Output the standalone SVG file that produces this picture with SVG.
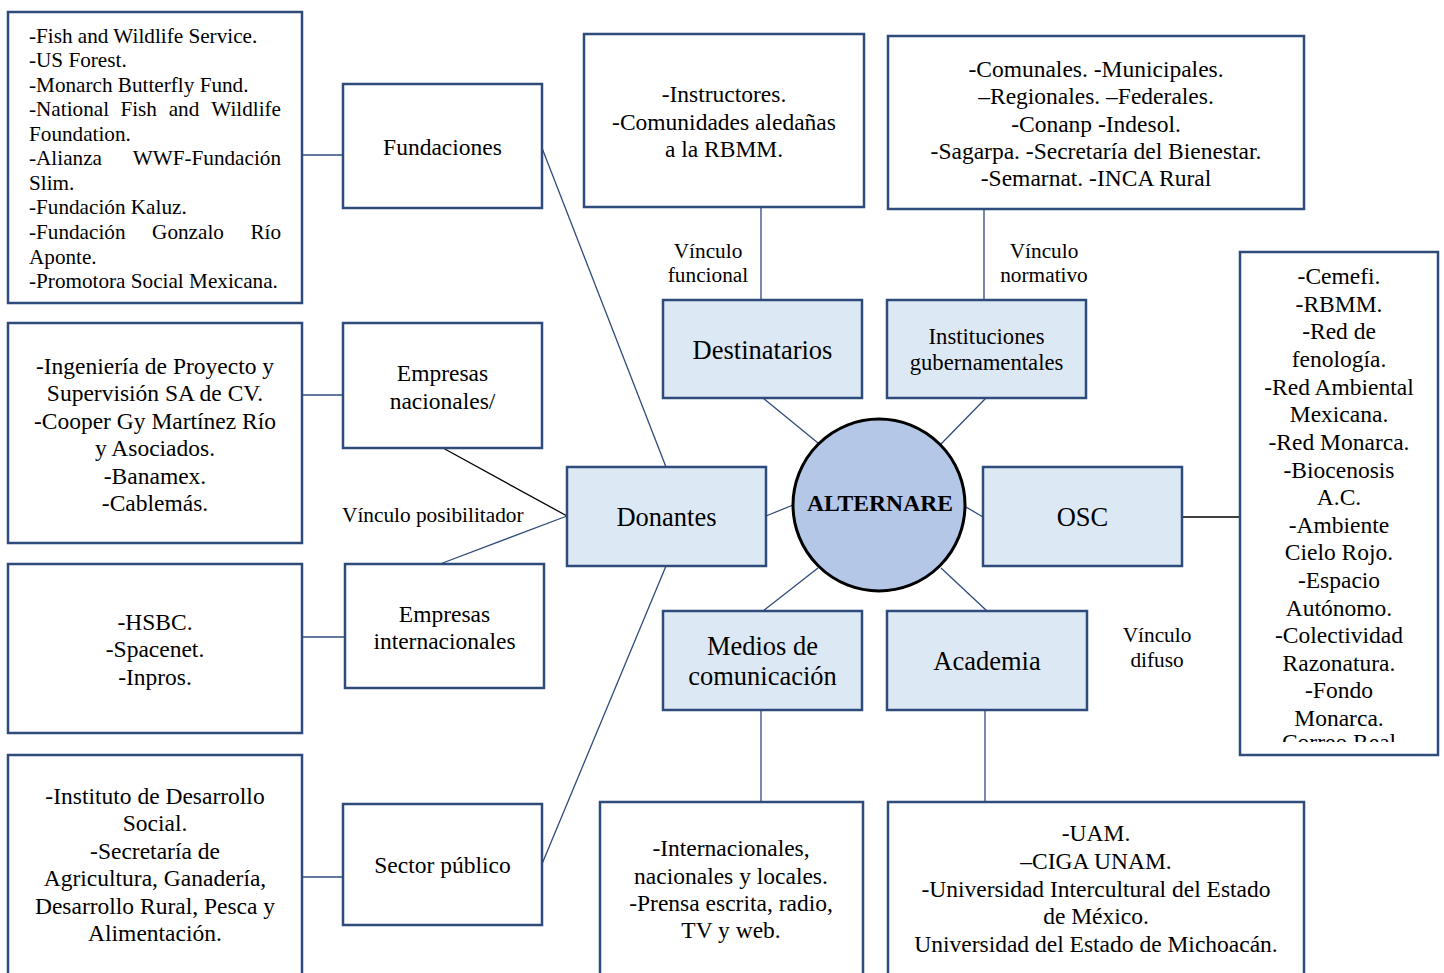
<svg xmlns="http://www.w3.org/2000/svg" width="1444" height="973" viewBox="0 0 1444 973">
  <style>
    .box { fill: #ffffff; stroke: #2f4b7c; stroke-width: 2.5; }
    .blue { fill: #dde8f5; stroke: #2f4b7c; stroke-width: 2.5; }
    .hub { fill: #b4c7e7; stroke: #000000; stroke-width: 3; }
    .ln { stroke: #2f4b7c; stroke-width: 1.3; fill: none; }
    .lk { stroke: #000000; stroke-width: 1.3; fill: none; }
    text { font-family: "Liberation Serif", "Times New Roman", serif; fill: #000000; }
    .list { font-size: 23.5px; text-anchor: middle; }
    .small { font-size: 21.2px; }
    .lbl { font-size: 23.5px; text-anchor: middle; }
    .big { font-size: 26.5px; text-anchor: middle; }
    .link { font-size: 21.3px; }
    .hubtxt { font-size: 23.6px; font-weight: bold; text-anchor: middle; }
  </style>
  <defs>
    <clipPath id="oscClip">
      <rect x="1240" y="252" width="200" height="490"/>
    </clipPath>
  </defs>

  <rect width="1444" height="973" fill="#ffffff"/>

  <!-- connectors -->
  <g id="connectors">
    <line class="ln" x1="297" y1="155" x2="343" y2="155"/>
    <line class="ln" x1="297" y1="395" x2="343" y2="395"/>
    <line class="ln" x1="298" y1="637" x2="345" y2="637"/>
    <line class="ln" x1="298" y1="877" x2="343" y2="877"/>
    <line class="ln" x1="542" y1="148" x2="666" y2="467"/>
    <line class="lk" x1="443" y1="448" x2="567" y2="516"/>
    <line class="ln" x1="440" y1="564" x2="567" y2="516"/>
    <line class="ln" x1="542" y1="864" x2="666" y2="566"/>
    <line class="ln" x1="766" y1="516" x2="793" y2="505"/>
    <line class="ln" x1="761" y1="205" x2="761" y2="300"/>
    <line class="ln" x1="984" y1="207" x2="984" y2="300"/>
    <line class="ln" x1="763" y1="398" x2="818" y2="443"/>
    <line class="ln" x1="986" y1="398" x2="941" y2="444"/>
    <line class="ln" x1="763" y1="611" x2="818" y2="568"/>
    <line class="ln" x1="987" y1="611" x2="941" y2="568"/>
    <line class="ln" x1="983" y1="517" x2="966" y2="507"/>
    <line class="lk" x1="1177" y1="517" x2="1240" y2="517"/>
    <line class="ln" x1="761" y1="708" x2="761" y2="804"/>
    <line class="ln" x1="985" y1="708" x2="985" y2="804"/>
  </g>

  <!-- link labels -->
  <g id="link-labels">
    <text class="link" x="342" y="522">Vínculo posibilitador</text>
    <text class="link" x="708" y="258" text-anchor="middle">Vínculo</text>
    <text class="link" x="708" y="282" text-anchor="middle">funcional</text>
    <text class="link" x="1044" y="258" text-anchor="middle">Vínculo</text>
    <text class="link" x="1044" y="282" text-anchor="middle">normativo</text>
    <text class="link" x="1157" y="642" text-anchor="middle">Vínculo</text>
    <text class="link" x="1157" y="667" text-anchor="middle">difuso</text>
  </g>

  <!-- left column: lists of donors -->
  <g id="list-fundaciones">
    <rect class="box" x="8" y="12" width="294" height="291"/>
    <text class="small" x="29" y="43">-Fish and Wildlife Service.</text>
    <text class="small" x="29" y="67">-US Forest.</text>
    <text class="small" x="29" y="92">-Monarch Butterfly Fund.</text>
    <text class="small" y="116"><tspan x="29">-National</tspan><tspan x="120.4">Fish</tspan><tspan x="168.7">and</tspan><tspan x="281" text-anchor="end">Wildlife</tspan></text>
    <text class="small" x="29" y="141">Foundation.</text>
    <text class="small" y="165"><tspan x="29">-Alianza</tspan><tspan x="281" text-anchor="end">WWF-Fundación</tspan></text>
    <text class="small" x="29" y="190">Slim.</text>
    <text class="small" x="29" y="214">-Fundación Kaluz.</text>
    <text class="small" y="239"><tspan x="29">-Fundación</tspan><tspan x="152.1">Gonzalo</tspan><tspan x="281" text-anchor="end">Río</tspan></text>
    <text class="small" x="29" y="264">Aponte.</text>
    <text class="small" x="29" y="288">-Promotora Social Mexicana.</text>
  </g>

  <g id="list-nacionales">
    <rect class="box" x="8" y="323" width="294" height="220"/>
    <text class="list" x="155" y="374">-Ingeniería de Proyecto y</text>
    <text class="list" x="155" y="401">Supervisión SA de CV.</text>
    <text class="list" x="155" y="429">-Cooper Gy Martínez Río</text>
    <text class="list" x="155" y="456">y Asociados.</text>
    <text class="list" x="155" y="484">-Banamex.</text>
    <text class="list" x="155" y="511">-Cablemás.</text>
  </g>

  <g id="list-internacionales">
    <rect class="box" x="8" y="564" width="294" height="169"/>
    <text class="list" x="155" y="630">-HSBC.</text>
    <text class="list" x="155" y="657">-Spacenet.</text>
    <text class="list" x="155" y="685">-Inpros.</text>
  </g>

  <g id="list-sector-publico">
    <rect class="box" x="8" y="755" width="294" height="230"/>
    <text class="list" x="155" y="804">-Instituto de Desarrollo</text>
    <text class="list" x="155" y="831">Social.</text>
    <text class="list" x="155" y="859">-Secretaría de</text>
    <text class="list" x="155" y="886">Agricultura, Ganadería,</text>
    <text class="list" x="155" y="914">Desarrollo Rural, Pesca y</text>
    <text class="list" x="155" y="941">Alimentación.</text>
  </g>

  <!-- donor categories -->
  <g id="fundaciones">
    <rect class="box" x="343" y="84" width="199" height="124"/>
    <text class="lbl" x="442.5" y="155">Fundaciones</text>
  </g>
  <g id="empresas-nacionales">
    <rect class="box" x="343" y="323" width="199" height="125"/>
    <text class="lbl" x="442.5" y="381">Empresas</text>
    <text class="lbl" x="442.5" y="409">nacionales/</text>
  </g>
  <g id="empresas-internacionales">
    <rect class="box" x="345" y="564" width="199" height="124"/>
    <text class="lbl" x="444.5" y="622">Empresas</text>
    <text class="lbl" x="444.5" y="649">internacionales</text>
  </g>
  <g id="sector-publico">
    <rect class="box" x="343" y="804" width="199" height="121"/>
    <text class="lbl" x="442.5" y="873">Sector público</text>
  </g>

  <!-- actors around the hub -->
  <g id="donantes">
    <rect class="blue" x="567" y="467" width="199" height="99"/>
    <text class="big" x="666.5" y="526">Donantes</text>
  </g>
  <g id="destinatarios">
    <rect class="blue" x="663" y="300" width="199" height="98"/>
    <text class="big" x="762.5" y="359">Destinatarios</text>
  </g>
  <g id="instituciones">
    <rect class="blue" x="887" y="300" width="199" height="98"/>
    <text x="986.5" y="344" font-size="22.7" text-anchor="middle">Instituciones</text>
    <text x="986.5" y="370" font-size="22.7" text-anchor="middle">gubernamentales</text>
  </g>
  <g id="osc">
    <rect class="blue" x="983" y="467" width="199" height="99"/>
    <text class="big" x="1082.5" y="526">OSC</text>
  </g>
  <g id="medios">
    <rect class="blue" x="663" y="611" width="199" height="99"/>
    <text class="big" x="762.5" y="655">Medios de</text>
    <text class="big" x="762.5" y="685">comunicación</text>
  </g>
  <g id="academia">
    <rect class="blue" x="887" y="611" width="200" height="99"/>
    <text class="big" x="987" y="670">Academia</text>
  </g>

  <g id="alternare">
    <circle class="hub" cx="879" cy="505" r="86"/>
    <text class="hubtxt" x="880" y="511">ALTERNARE</text>
  </g>

  <!-- detail lists around the hub -->
  <g id="list-destinatarios">
    <rect class="box" x="584" y="34" width="280" height="173"/>
    <text class="list" x="724" y="102">-Instructores.</text>
    <text class="list" x="724" y="130">-Comunidades aledañas</text>
    <text class="list" x="724" y="157">a la RBMM.</text>
  </g>
  <g id="list-instituciones">
    <rect class="box" x="888" y="36" width="416" height="173"/>
    <text class="list" x="1096" y="77">-Comunales. -Municipales.</text>
    <text class="list" x="1096" y="104">–Regionales. –Federales.</text>
    <text class="list" x="1096" y="132">-Conanp -Indesol.</text>
    <text class="list" x="1096" y="159">-Sagarpa. -Secretaría del Bienestar.</text>
    <text class="list" x="1096" y="186">-Semarnat. -INCA Rural</text>
  </g>
  <g id="list-osc">
    <rect class="box" x="1240" y="252" width="198" height="503"/>
    <g clip-path="url(#oscClip)">
      <text class="list" x="1339" y="284">-Cemefi.</text>
      <text class="list" x="1339" y="312">-RBMM.</text>
      <text class="list" x="1339" y="339">-Red de</text>
      <text class="list" x="1339" y="367">fenología.</text>
      <text class="list" x="1339" y="395">-Red Ambiental</text>
      <text class="list" x="1339" y="422">Mexicana.</text>
      <text class="list" x="1339" y="450">-Red Monarca.</text>
      <text class="list" x="1339" y="478">-Biocenosis</text>
      <text class="list" x="1339" y="505">A.C.</text>
      <text class="list" x="1339" y="533">-Ambiente</text>
      <text class="list" x="1339" y="560">Cielo Rojo.</text>
      <text class="list" x="1339" y="588">-Espacio</text>
      <text class="list" x="1339" y="616">Autónomo.</text>
      <text class="list" x="1339" y="643">-Colectividad</text>
      <text class="list" x="1339" y="671">Razonatura.</text>
      <text class="list" x="1339" y="698">-Fondo</text>
      <text class="list" x="1339" y="726">Monarca.</text>
      <text class="list" x="1339" y="750">Correo Real</text>
    </g>
  </g>
  <g id="list-medios">
    <rect class="box" x="600" y="802" width="263" height="185"/>
    <text class="list" x="731" y="856">-Internacionales,</text>
    <text class="list" x="731" y="884">nacionales y locales.</text>
    <text class="list" x="731" y="911">-Prensa escrita, radio,</text>
    <text class="list" x="731" y="938">TV y web.</text>
  </g>
  <g id="list-academia">
    <rect class="box" x="888" y="802" width="416" height="185"/>
    <text class="list" x="1096" y="841">-UAM.</text>
    <text class="list" x="1096" y="869">–CIGA UNAM.</text>
    <text class="list" x="1096" y="897">-Universidad Intercultural del Estado</text>
    <text class="list" x="1096" y="924">de México.</text>
    <text class="list" x="1096" y="952">Universidad del Estado de Michoacán.</text>
  </g>
</svg>
